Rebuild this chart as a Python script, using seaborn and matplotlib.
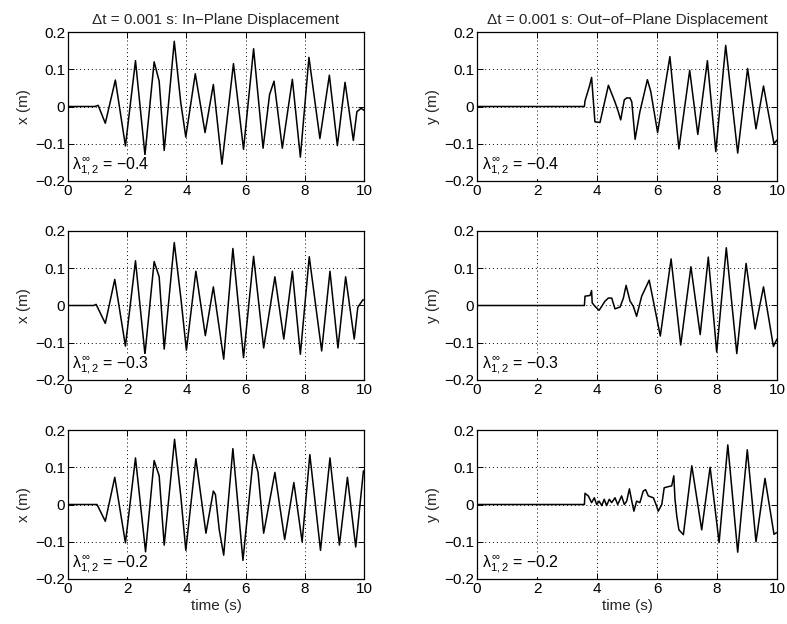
import numpy as np
import pandas as pd
import matplotlib
matplotlib.use("Agg")
import matplotlib.pyplot as plt
import seaborn as sns

# ---------------- data ----------------
x_ticks = [0, 2, 4, 6, 8, 10]
y_ticks = [-0.2, -0.1, 0.0, 0.1, 0.2]
y_tick_labels = ["\u22120.2", "\u22120.1", "0", "0.1", "0.2"]

titles = ["\u0394t = 0.001 s: In\u2212Plane Displacement",
          "\u0394t = 0.001 s: Out\u2212of\u2212Plane Displacement"]
lambda_values = ["\u22120.4", "\u22120.3", "\u22120.2"]

# In-plane, lambda = -0.4
t_in_04 = [0, 0.90, 1.02, 1.26, 1.60, 1.94, 2.28, 2.60, 2.91, 3.08, 3.25, 3.59, 3.81, 3.98,
           4.30, 4.63, 4.91, 5.20, 5.59, 5.93, 6.27, 6.59, 6.81, 6.96, 7.24, 7.58, 7.85,
           8.14, 8.51, 8.83, 9.10, 9.36, 9.64, 9.76, 9.90, 10.0]
x_in_04 = [0, 0.0, 0.003, -0.045, 0.071, -0.106, 0.123, -0.130, 0.120, 0.068, -0.118, 0.175,
           0.010, -0.082, 0.088, -0.070, 0.059, -0.155, 0.115, -0.115, 0.155, -0.112, 0.032,
           0.068, -0.112, 0.073, -0.136, 0.132, -0.086, 0.084, -0.105, 0.065, -0.091,
           -0.014, -0.005, -0.010]

# In-plane, lambda = -0.3
t_in_03 = [0, 0.87, 0.95, 1.26, 1.58, 1.94, 2.28, 2.60, 2.91, 3.08, 3.25, 3.59, 3.81, 4.00,
           4.32, 4.64, 4.91, 5.26, 5.57, 5.93, 6.27, 6.61, 6.99, 7.29, 7.58, 7.85, 8.15,
           8.57, 8.85, 9.12, 9.38, 9.67, 9.79, 9.96, 10.0]
x_in_03 = [0, 0.0, 0.003, -0.048, 0.070, -0.109, 0.120, -0.131, 0.118, 0.077, -0.117, 0.169,
           0.022, -0.120, 0.092, -0.081, 0.050, -0.144, 0.153, -0.140, 0.132, -0.114,
           0.077, -0.090, 0.092, -0.131, 0.131, -0.122, 0.092, -0.114, 0.077, -0.090,
           -0.005, 0.015, 0.015]

# In-plane, lambda = -0.2
t_in_02 = [0, 0.98, 1.26, 1.58, 1.94, 2.28, 2.62, 2.91, 3.08, 3.25, 3.60, 3.81, 3.98, 4.32,
           4.66, 4.91, 4.98, 5.11, 5.26, 5.57, 5.91, 6.27, 6.42, 6.61, 6.99, 7.32, 7.63,
           7.91, 8.17, 8.53, 8.85, 9.17, 9.44, 9.72, 9.98, 10.0]
x_in_02 = [0, 0.0, -0.045, 0.073, -0.103, 0.125, -0.127, 0.118, 0.077, -0.109, 0.175, 0.023,
           -0.123, 0.123, -0.077, 0.036, 0.027, -0.068, -0.136, 0.150, -0.150, 0.134,
           0.086, -0.077, 0.086, -0.094, 0.059, -0.100, 0.134, -0.123, 0.125, -0.109,
           0.073, -0.114, 0.090, 0.090]

# Out-of-plane, lambda = -0.4
t_out_04 = [0, 3.58, 3.60, 3.75, 3.82, 3.93, 4.10, 4.38, 4.60, 4.71, 4.79, 4.91, 4.99, 5.10,
            5.16, 5.27, 5.43, 5.68, 5.79, 6.02, 6.43, 6.73, 7.09, 7.36, 7.68, 7.96, 8.29,
            8.69, 9.02, 9.30, 9.55, 9.90, 10.0]
y_out_04 = [0, 0.0, 0.015, 0.055, 0.078, -0.041, -0.043, 0.057, 0.012, -0.014, -0.036,
            0.018, 0.023, 0.023, 0.012, -0.088, -0.014, 0.072, 0.041, -0.070, 0.134,
            -0.114, 0.097, -0.075, 0.123, -0.121, 0.164, -0.125, 0.102, -0.060, 0.055,
            -0.100, -0.090]

# Out-of-plane, lambda = -0.3
t_out_03 = [0, 3.58, 3.60, 3.77, 3.82, 3.84, 3.93, 4.07, 4.27, 4.38, 4.49, 4.60, 4.77, 4.88,
            4.97, 5.10, 5.21, 5.32, 5.49, 5.74, 6.11, 6.47, 6.79, 7.13, 7.44, 7.71, 7.99,
            8.31, 8.66, 8.97, 9.27, 9.55, 9.88, 10.0]
y_out_03 = [0, 0.0, 0.025, 0.027, 0.040, 0.007, -0.002, -0.013, 0.012, 0.020, 0.020, -0.009,
            -0.004, 0.020, 0.054, 0.012, -0.002, -0.029, 0.025, 0.068, -0.082, 0.125,
            -0.106, 0.104, -0.078, 0.130, -0.125, 0.155, -0.129, 0.113, -0.063, 0.050,
            -0.110, -0.090]

# Out-of-plane, lambda = -0.2
t_out_02 = [0, 3.58, 3.60, 3.71, 3.82, 3.91, 3.99, 4.07, 4.16, 4.24, 4.32, 4.41, 4.49, 4.60,
            4.69, 4.82, 4.91, 4.99, 5.08, 5.16, 5.23, 5.32, 5.43, 5.54, 5.62, 5.71, 5.88,
            5.99, 6.04, 6.16, 6.24, 6.38, 6.49, 6.56, 6.60, 6.66, 6.73, 6.88, 7.16, 7.49,
            7.77, 8.07, 8.36, 8.69, 9.01, 9.30, 9.60, 9.90, 10.0]
y_out_02 = [0, 0.0, 0.030, 0.023, 0.005, 0.018, 0.000, 0.009, -0.003, 0.014, -0.003, 0.014,
            0.005, 0.018, 0.000, 0.023, 0.000, 0.009, 0.042, 0.009, -0.018, 0.009, 0.005,
            0.036, 0.040, 0.023, 0.018, -0.005, -0.018, 0.000, 0.045, 0.048, 0.050, 0.077,
            0.014, -0.032, -0.068, -0.081, 0.104, -0.068, 0.100, -0.102, 0.160, -0.128,
            0.147, -0.100, 0.070, -0.080, -0.075]

# ---------------- figure ----------------
sns.set_theme(style="white")
plt.rcParams["font.family"] = ["Liberation Sans", "DejaVu Sans"]
plt.rcParams["mathtext.fontset"] = "custom"
plt.rcParams["mathtext.rm"] = "Liberation Sans"
plt.rcParams["mathtext.it"] = "Liberation Sans"

fig = plt.figure(figsize=(7.87, 6.24), dpi=100)

W, H = 787.0, 624.0
col_px = [(68, 296), (477, 300)]
row_px = [(32, 149), (231, 149), (430, 149)]

series = [
    [(t_in_04, x_in_04), (t_out_04, y_out_04)],
    [(t_in_03, x_in_03), (t_out_03, y_out_03)],
    [(t_in_02, x_in_02), (t_out_02, y_out_02)],
]
ylabels = ["x (m)", "y (m)"]

FS = 11
for r, (top, h) in enumerate(row_px):
    for c, (left, w) in enumerate(col_px):
        ax = fig.add_axes([left / W, 1 - (top + h) / H, w / W, h / H])
        t, v = series[r][c]
        df = pd.DataFrame({"t": t, "v": v})
        sns.lineplot(data=df, x="t", y="v", ax=ax, color="black", linewidth=1.1,
                     estimator=None, sort=False)
        ax.set_xlim(0, 10)
        ax.set_ylim(-0.2, 0.2)
        ax.set_xticks(x_ticks)
        ax.set_xticklabels([str(k) for k in x_ticks], fontsize=FS)
        ax.set_yticks(y_ticks)
        ax.set_yticklabels(y_tick_labels, fontsize=FS)
        ax.grid(True, linestyle=(0, (1, 3)), color="black", linewidth=0.7)
        ax.tick_params(direction="in", length=4, width=0.7, top=True, right=True,
                       bottom=True, left=True, pad=2, colors="black")
        for s in ax.spines.values():
            s.set_color("black")
            s.set_linewidth(0.9)
        ax.set_ylabel(ylabels[c], fontsize=FS, labelpad=3)
        if r == 2:
            ax.set_xlabel("time (s)", fontsize=FS, labelpad=2)
        else:
            ax.set_xlabel("")
        if r == 0:
            ax.set_title(titles[c], fontsize=FS, pad=6)
        ax.text(0.015, 0.02, r"$\lambda_{1,2}^{\infty}$ = " + lambda_values[r],
                transform=ax.transAxes, fontsize=11.5, ha="left", va="bottom",
                color="black",
                bbox=dict(facecolor="white", edgecolor="none", pad=0.5))

fig.savefig("out.png", dpi=100)
